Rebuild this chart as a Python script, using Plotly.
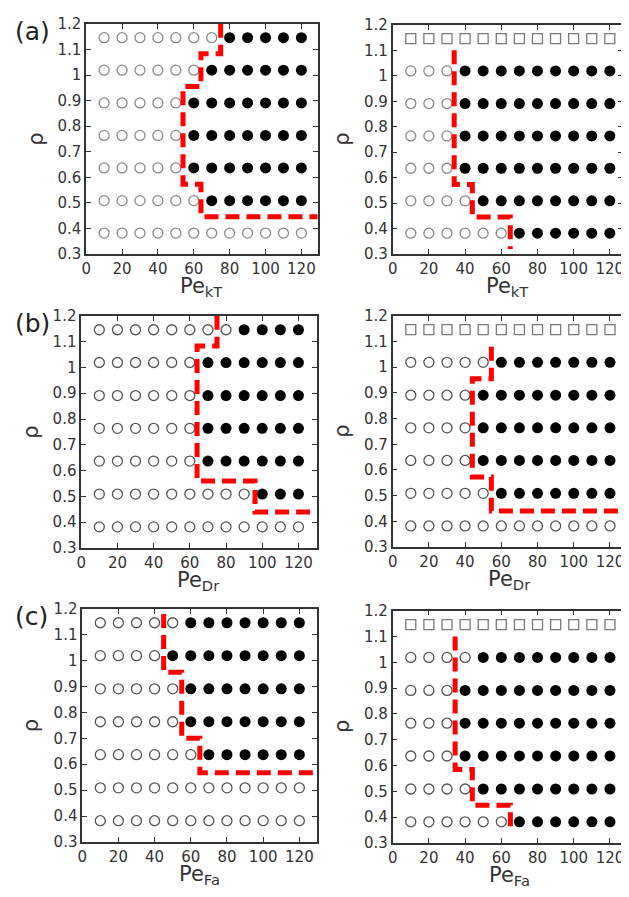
import plotly.graph_objects as go

# ---------------- data ----------------
PE = [10, 20, 30, 40, 50, 60, 70, 80, 90, 100, 110, 120]
RHO = [0.382, 0.509, 0.637, 0.764, 0.891, 1.019, 1.146]

# Pe at which filled (black) circles start, per rho row (bottom -> top)
# None = no filled points in that row, "sq" = whole row drawn as open squares
A_LEFT_ONSET = [None, 70, 60, 60, 60, 70, 80]
A_RIGHT_ONSET = [70, 50, 40, 40, 40, 40, "sq"]
B_LEFT_ONSET = [None, 100, 70, 70, 70, 70, 90]
B_RIGHT_ONSET = [None, 60, 50, 50, 50, 60, "sq"]
C_LEFT_ONSET = [None, None, 70, 60, 60, 50, 60]
C_RIGHT_ONSET = [70, 50, 40, 40, 40, 50, "sq"]

# red dashed phase boundaries
A_LEFT_BX = [75, 75, 64, 64, 54, 54, 64, 64, 130]
A_LEFT_BY = [1.2, 1.083, 1.083, 0.955, 0.955, 0.573, 0.573, 0.446, 0.446]
A_RIGHT_BX = [34, 34, 44, 44, 65, 65]
A_RIGHT_BY = [1.1, 0.573, 0.573, 0.446, 0.446, 0.32]
B_LEFT_BX = [75, 75, 64, 64, 96, 96, 130]
B_LEFT_BY = [1.2, 1.083, 1.083, 0.56, 0.56, 0.44, 0.44]
B_RIGHT_BX = [54.5, 54.5, 44, 44, 54.5, 54.5, 130]
B_RIGHT_BY = [1.08, 0.955, 0.955, 0.573, 0.573, 0.44, 0.44]
C_LEFT_BX = [45, 45, 55, 55, 65, 65, 130]
C_LEFT_BY = [1.18, 0.955, 0.955, 0.70, 0.70, 0.567, 0.567]
C_RIGHT_BX = [34.5, 34.5, 44, 44, 65, 65]
C_RIGHT_BY = [1.1, 0.585, 0.585, 0.446, 0.446, 0.36]

X_TICKS = [0, 20, 40, 60, 80, 100, 120]
Y_TICKS = [0.3, 0.4, 0.5, 0.6, 0.7, 0.8, 0.9, 1.0, 1.1, 1.2]
Y_TICK_TEXT = ["0.3", "0.4", "0.5", "0.6", "0.7", "0.8", "0.9", "1", "1.1", "1.2"]

X_TITLES = ["Pe<sub>kT</sub>", "Pe<sub>kT</sub>", "Pe<sub>Dr</sub>", "Pe<sub>Dr</sub>",
            "Pe<sub>Fa</sub>", "Pe<sub>Fa</sub>"]
PANEL_LABELS = ["(a)", "(b)", "(c)"]

# ---------------- layout (page pixels; page body has an 8px margin) ----------------
OFF = 8
W, H = 629 - OFF, 897 - OFF
# (x0, x1, y_top, y_bottom, xmax) in page pixels
BOXES = [
    (82, 316, 15, 250, 129.0),
    (392, 625, 16, 250, 127.3),
    (77, 315, 313, 550, 130.0),
    (392, 629, 313, 549, 129.4),
    (78, 315, 612, 850, 129.5),
    (392, 629, 614, 851, 129.4),
]

PANELS = [
    (A_LEFT_ONSET, A_LEFT_BX, A_LEFT_BY, "#8a8a8a"),
    (A_RIGHT_ONSET, A_RIGHT_BX, A_RIGHT_BY, "#8a8a8a"),
    (B_LEFT_ONSET, B_LEFT_BX, B_LEFT_BY, "#555555"),
    (B_RIGHT_ONSET, B_RIGHT_BX, B_RIGHT_BY, "#555555"),
    (C_LEFT_ONSET, C_LEFT_BX, C_LEFT_BY, "#555555"),
    (C_RIGHT_ONSET, C_RIGHT_BX, C_RIGHT_BY, "#555555"),
]

FONT = "DejaVu Sans"
AX = "#333333"


def px(xp):
    return (xp - OFF) / W


def py(yp):
    return 1 - (yp - OFF) / H


fig = go.Figure()
layout = dict(
    width=W, height=H, margin=dict(l=0, r=0, t=0, b=0),
    paper_bgcolor="white", plot_bgcolor="white", showlegend=False,
    font=dict(family=FONT, size=14, color=AX),
)
annotations = []

for i, ((onset, bx, by, ocol), (x0, x1, yt, yb, xmax)) in enumerate(zip(PANELS, BOXES)):
    n = i + 1
    xa = "x" if n == 1 else f"x{n}"
    ya = "y" if n == 1 else f"y{n}"
    ox, oy, fx, fy, sx, sy = [], [], [], [], [], []
    for r, th in zip(RHO, onset):
        for p in PE:
            if th == "sq":
                sx.append(p); sy.append(r)
            elif th is not None and p >= th:
                fx.append(p); fy.append(r)
            else:
                ox.append(p); oy.append(r)
    fig.add_trace(go.Scatter(x=ox, y=oy, mode="markers", xaxis=xa, yaxis=ya,
                             marker=dict(symbol="circle-open", size=10, color=ocol,
                                         line=dict(width=1.3, color=ocol))))
    fig.add_trace(go.Scatter(x=fx, y=fy, mode="markers", xaxis=xa, yaxis=ya,
                             marker=dict(symbol="circle", size=11, color="black")))
    if sx:
        fig.add_trace(go.Scatter(x=sx, y=sy, mode="markers", xaxis=xa, yaxis=ya,
                                 marker=dict(symbol="square-open", size=10, color="#7a7a7a",
                                             line=dict(width=1.3, color="#7a7a7a"))))
    fig.add_trace(go.Scatter(x=bx, y=by, mode="lines", xaxis=xa, yaxis=ya,
                             line=dict(color="#ff0000", width=5, dash="14px,7px")))

    xkey = "xaxis" if n == 1 else f"xaxis{n}"
    ykey = "yaxis" if n == 1 else f"yaxis{n}"
    common = dict(showgrid=False, zeroline=False, showline=True, linecolor=AX,
                  linewidth=1.5, mirror="ticks", ticks="inside", ticklen=5,
                  tickcolor=AX, tickwidth=1, tickfont=dict(family=FONT, size=15, color=AX))
    layout[xkey] = dict(common, domain=[px(x0), min(1.0, px(x1))], range=[0, xmax],
                        tickvals=X_TICKS, anchor=ya)
    layout[ykey] = dict(common, domain=[py(yb), py(yt)], range=[0.3, 1.2],
                        tickvals=Y_TICKS, ticktext=Y_TICK_TEXT, anchor=xa)

    # x title
    annotations.append(dict(text=X_TITLES[i], xref="paper", yref="paper",
                            x=px((x0 + x1) / 2), y=py(yb + 18),
                            xanchor="center", yanchor="top", showarrow=False,
                            font=dict(family=FONT, size=21, color=AX)))
    # y title
    annotations.append(dict(text="ρ", xref="paper", yref="paper",
                            x=px(x0 - 51), y=py((yt + yb) / 2),
                            xanchor="center", yanchor="middle", showarrow=False,
                            textangle=-90, font=dict(family=FONT, size=21, color=AX)))

for k, lab in enumerate(PANEL_LABELS):
    ytop = BOXES[2 * k][2]
    annotations.append(dict(text=lab, xref="paper", yref="paper",
                            x=0, y=py(ytop + 8), xanchor="left",
                            yanchor="middle", showarrow=False,
                            font=dict(family=FONT, size=25, color="#222222")))

layout["annotations"] = annotations
fig.update_layout(**layout)
fig.write_html("out.html")
